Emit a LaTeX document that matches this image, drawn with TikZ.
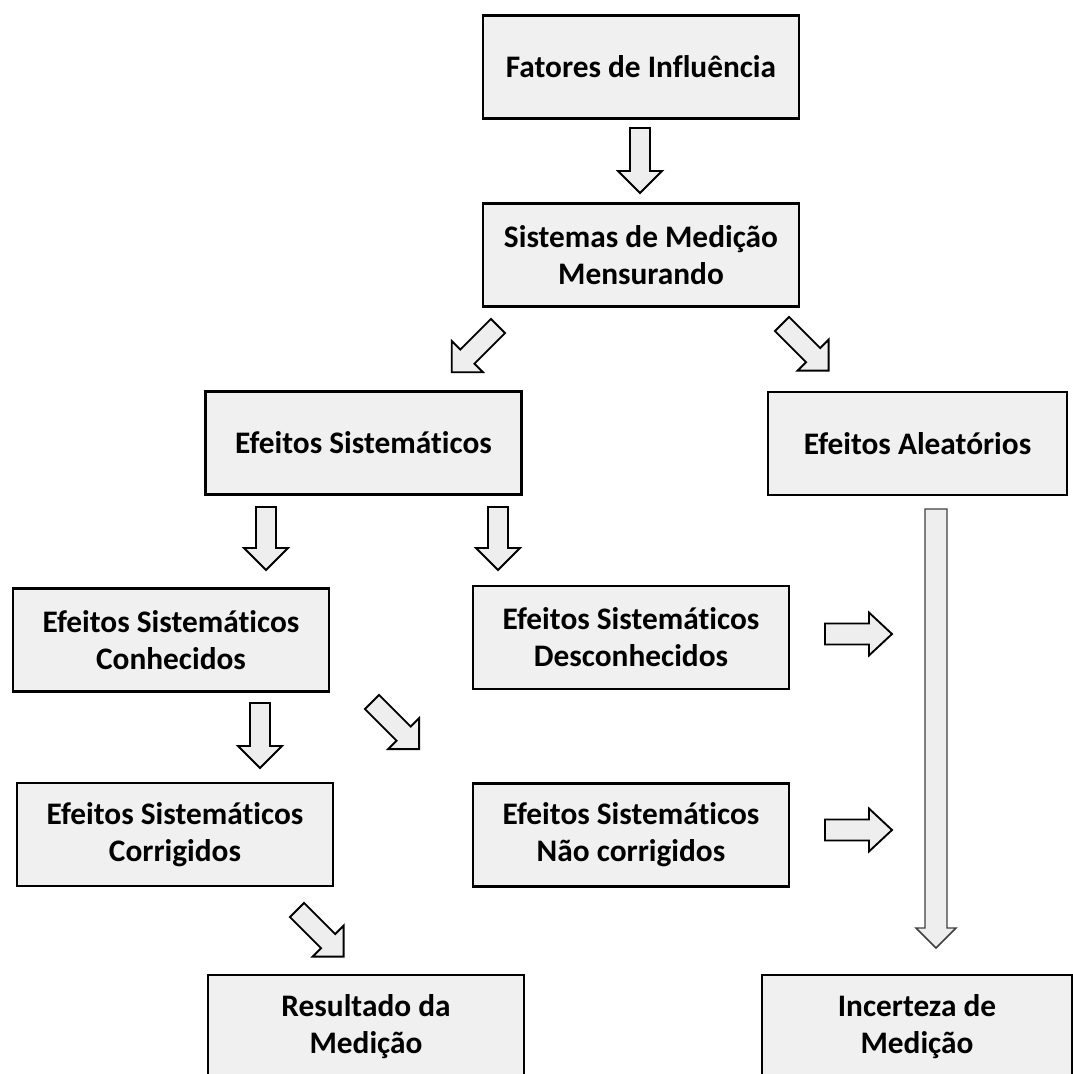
\documentclass[tikz,border=0pt]{standalone}
\usepackage{fontspec}
\setmainfont[Ligatures=NoCommon]{Carlito}
\definecolor{boxfill}{RGB}{240,240,240}
\definecolor{arrowfill}{RGB}{238,238,238}

\tikzset{
  box/.style={draw=black, line width=2.2pt, fill=boxfill,
    minimum width=237pt, minimum height=77.25pt, inner sep=0pt,
    align=center, font=\fontsize{23.5}{27.75}\selectfont\bfseries},
  arrowline/.style={draw=black, line width=1.4pt, fill=arrowfill, line join=miter},
  thinarrow/.style={draw=black!75, line width=1.1pt, fill=arrowfill, line join=miter},
  % hollow block arrow drawn from its tail centre along +x:
  % length / shaft half width / head half width / head length
  pics/blockarrow/.style args={#1/#2/#3/#4}{code={
    \path[pic actions] (0pt,-#2) -- ({#1-#4},-#2) -- ({#1-#4},-#3) -- (#1,0pt)
      -- ({#1-#4},#3) -- ({#1-#4},#2) -- (0pt,#2) -- cycle;
  }},
}

\begin{document}
\begin{tikzpicture}[x=0.75pt, y=-0.75pt]
  \path[use as bounding box] (0,0) rectangle (1073,1074);
  \clip (0,0) rectangle (1073,1074);
  \fill[white] (0,0) rectangle (1073,1074);

  % boxes
  \node[box] (fat)  at (641,67)     {Fatores de Influência};
  \node[box] (sis)  at (641,255)    {Sistemas de Medição\\Mensurando};
  \node[box] (esis) at (363.5,443)  {Efeitos Sistemáticos};
  \node[box, minimum width=224.25pt] (eale) at (917.5,443.5) {Efeitos Aleatórios};
  \node[box] (conh) at (171,640)    {Efeitos Sistemáticos\\Conhecidos};
  \node[box] (desc) at (631,637.5)  {Efeitos Sistemáticos\\Desconhecidos};
  \node[box] (corr) at (175,834.5)  {Efeitos Sistemáticos\\Corrigidos};
  \node[box] (nc)   at (631,835)    {Efeitos Sistemáticos\\Não corrigidos};
  \node[box] (res)  at (366,1026.5) {Resultado da\\Medição};
  \node[box, minimum width=232.5pt] (inc) at (917,1026.5) {Incerteza de\\Medição};

  % tails of the block arrows
  \coordinate (fat-sis)   at (640,128);
  \coordinate (sis-esis)  at (498,326);
  \coordinate (sis-eale)  at (782,324);
  \coordinate (esis-conh) at (266,507);
  \coordinate (esis-desc) at (498,507);
  \coordinate (conh-corr) at (260,703);
  \coordinate (conh-nc)   at (372,702);
  \coordinate (corr-res)  at (297,910);
  \coordinate (desc-out)  at (825,634);
  \coordinate (nc-out)    at (825,830);
  \coordinate (eale-inc)  at (936,509);

  % block arrows
  \pic[arrowline, rotate=-90]  at (fat-sis)   {blockarrow=48.75pt/7.5pt/16.5pt/16.5pt};
  \pic[arrowline, rotate=-135] at (sis-esis)  {blockarrow=49pt/7.5pt/16.5pt/16.5pt};
  \pic[arrowline, rotate=-45]  at (sis-eale)  {blockarrow=49.5pt/7.5pt/16.5pt/16.5pt};
  \pic[arrowline, rotate=-90]  at (esis-conh) {blockarrow=47.25pt/7.5pt/16.5pt/16.5pt};
  \pic[arrowline, rotate=-90]  at (esis-desc) {blockarrow=47.25pt/7.5pt/16.5pt/16.5pt};
  \pic[arrowline, rotate=-90]  at (conh-corr) {blockarrow=48.75pt/7.5pt/16.5pt/16.5pt};
  \pic[arrowline, rotate=-45]  at (conh-nc)   {blockarrow=50pt/7.5pt/16.5pt/16.5pt};
  \pic[arrowline, rotate=-45]  at (corr-res)  {blockarrow=49.5pt/7.5pt/16.5pt/16.5pt};
  \pic[arrowline]              at (desc-out)  {blockarrow=50.25pt/7.9pt/16.1pt/17.25pt};
  \pic[arrowline]              at (nc-out)    {blockarrow=50.25pt/7.9pt/16.1pt/17.25pt};
  \pic[thinarrow, rotate=-90]  at (eale-inc)  {blockarrow=329.25pt/8.25pt/15pt/15pt};
\end{tikzpicture}
\end{document}
